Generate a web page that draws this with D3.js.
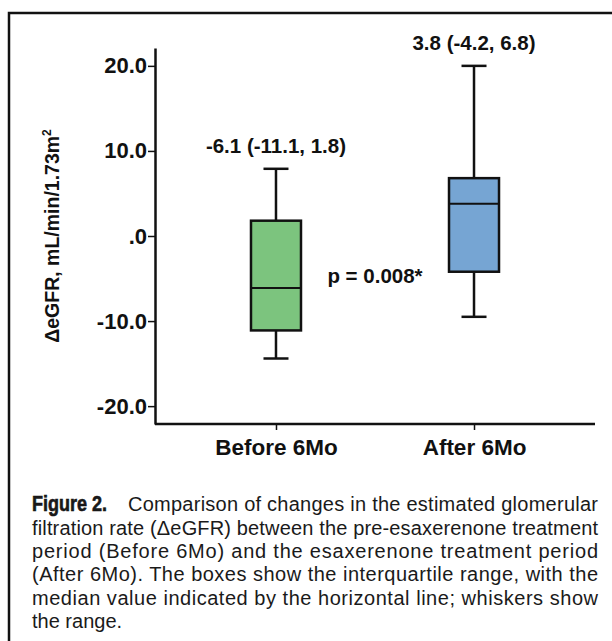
<!DOCTYPE html>
<html>
<head>
<meta charset="utf-8">
<script src="https://cdn.jsdelivr.net/npm/d3@7"></script>
<style>
  body { margin: 0; background: #fff; }
  svg { display: block; }
  .chart text { font-family: "Liberation Sans", Arial, sans-serif; font-weight: bold; fill: #111; }
  .caption text { font-family: "Liberation Sans", Arial, sans-serif; fill: #1a1a1a; font-size: 20px; }
</style>
</head>
<body>
<div id="chart"></div>
<script>
var groups = ["Before 6Mo", "After 6Mo"];
var mins = [-14.4, -9.5];
var q1s = [-11.1, -4.2];
var medians = [-6.1, 3.8];
var q3s = [1.8, 6.8];
var maxs = [7.9, 20.0];
var fills = ["#7cc47e", "#76a5d3"];
var summaryLabels = ["-6.1 (-11.1, 1.8)", "3.8 (-4.2, 6.8)"];
var yTicks = [-20, -10, 0, 10, 20];
var yTickLabels = ["-20.0", "-10.0", ".0", "10.0", "20.0"];
var pText = "p = 0.008*";

var captionLines = [
  "filtration rate (\u0394eGFR) between the pre-esaxerenone treatment",
  "period (Before 6Mo) and the esaxerenone treatment period",
  "(After 6Mo). The boxes show the interquartile range, with the",
  "median value indicated by the horizontal line; whiskers show",
  "the range."
];

var W = 612, H = 641;
var svg = d3.select("#chart").append("svg")
    .attr("width", W)
    .attr("height", H);

// outer frame (only top and left edges fall inside the picture)
svg.append("rect")
    .attr("x", 9).attr("y", 13)
    .attr("width", 640).attr("height", 660)
    .attr("fill", "none")
    .attr("stroke", "#111")
    .attr("stroke-width", 2.5);

var data = groups.map(function(g, i) {
  return {group: g, min: mins[i], q1: q1s[i], median: medians[i], q3: q3s[i], max: maxs[i], fill: fills[i], label: summaryLabels[i]};
});

var x = d3.scalePoint().domain(groups).range([155, 595]).padding(0.611);
var y = d3.scaleLinear().domain([-22.1, 22.1]).range([424, 48]);

var g = svg.append("g").attr("class", "chart");

var yAxis = d3.axisLeft(y)
    .tickValues(yTicks)
    .tickFormat(function(d, i) { return yTickLabels[i]; })
    .tickSize(7)
    .tickSizeOuter(0)
    .tickPadding(1);

var yg = g.append("g")
    .attr("transform", "translate(155,0)")
    .call(yAxis);
yg.select(".domain").attr("stroke", "#111").attr("stroke-width", 2.5);
yg.selectAll(".tick line").attr("stroke", "#111").attr("stroke-width", 1.5);
yg.selectAll(".tick text").style("font-size", "22px").attr("fill", "#111");

var xAxis = d3.axisBottom(x)
    .tickSize(6)
    .tickSizeOuter(0)
    .tickPadding(9);

var xg = g.append("g")
    .attr("transform", "translate(0,424)")
    .call(xAxis);
xg.select(".domain").attr("d", "M155,0H595").attr("stroke", "#111").attr("stroke-width", 2.5);
xg.selectAll(".tick line").attr("stroke", "#111").attr("stroke-width", 1.5);
xg.selectAll(".tick text").style("font-size", "22.5px").attr("fill", "#111");

// y axis title
g.append("text")
    .attr("transform", "translate(59," + y(0) + ") rotate(-90)")
    .attr("text-anchor", "middle")
    .style("font-size", "19.5px")
    .html("\u0394eGFR, mL/min/1.73m<tspan dy='-8' style='font-size:12px'>2</tspan>");

var boxW = 50, capW = 25;

var boxes = g.selectAll(".box")
  .data(data)
  .enter().append("g")
    .attr("class", "box");

// whiskers
boxes.append("line")
    .attr("x1", function(d) { return x(d.group); })
    .attr("x2", function(d) { return x(d.group); })
    .attr("y1", function(d) { return y(d.max); })
    .attr("y2", function(d) { return y(d.q3); })
    .attr("stroke", "#111").attr("stroke-width", 2.5);
boxes.append("line")
    .attr("x1", function(d) { return x(d.group); })
    .attr("x2", function(d) { return x(d.group); })
    .attr("y1", function(d) { return y(d.q1); })
    .attr("y2", function(d) { return y(d.min); })
    .attr("stroke", "#111").attr("stroke-width", 2.5);
boxes.append("line")
    .attr("x1", function(d) { return x(d.group) - capW / 2; })
    .attr("x2", function(d) { return x(d.group) + capW / 2; })
    .attr("y1", function(d) { return y(d.max); })
    .attr("y2", function(d) { return y(d.max); })
    .attr("stroke", "#111").attr("stroke-width", 2.5);
boxes.append("line")
    .attr("x1", function(d) { return x(d.group) - capW / 2; })
    .attr("x2", function(d) { return x(d.group) + capW / 2; })
    .attr("y1", function(d) { return y(d.min); })
    .attr("y2", function(d) { return y(d.min); })
    .attr("stroke", "#111").attr("stroke-width", 2.5);

// box
boxes.append("rect")
    .attr("x", function(d) { return x(d.group) - boxW / 2; })
    .attr("y", function(d) { return y(d.q3); })
    .attr("width", boxW)
    .attr("height", function(d) { return y(d.q1) - y(d.q3); })
    .attr("fill", function(d) { return d.fill; })
    .attr("stroke", "#111").attr("stroke-width", 2.5);

// median
boxes.append("line")
    .attr("x1", function(d) { return x(d.group) - boxW / 2; })
    .attr("x2", function(d) { return x(d.group) + boxW / 2; })
    .attr("y1", function(d) { return y(d.median); })
    .attr("y2", function(d) { return y(d.median); })
    .attr("stroke", "#111").attr("stroke-width", 2);

// median (IQR) labels
boxes.append("text")
    .attr("x", function(d) { return x(d.group); })
    .attr("y", function(d) { return y(d.max) - 16; })
    .attr("text-anchor", "middle")
    .style("font-size", "20.5px")
    .text(function(d) { return d.label; });

g.append("text")
    .attr("x", (x(groups[0]) + x(groups[1])) / 2)
    .attr("y", y(-5.5))
    .attr("text-anchor", "middle")
    .style("font-size", "20.5px")
    .text(pText);

// caption
var cap = svg.append("g").attr("class", "caption");
cap.append("text")
    .attr("x", 32).attr("y", 511)
    .style("font-family", "'Liberation Sans Narrow', 'Arial Narrow', 'Liberation Sans', sans-serif")
    .style("font-weight", "bold")
    .style("font-size", "22px")
    .attr("textLength", 75)
    .attr("lengthAdjust", "spacingAndGlyphs")
    .attr("fill", "#111")
    .attr("stroke", "#111")
    .attr("stroke-width", 0.6)
    .text("Figure 2.");
cap.append("text")
    .attr("x", 128).attr("y", 511)
    .attr("textLength", 470)
    .attr("lengthAdjust", "spacing")
    .text("Comparison of changes in the estimated glomerular");

cap.selectAll(".line")
  .data(captionLines)
  .enter().append("text")
    .attr("class", "line")
    .attr("x", 32)
    .attr("y", function(d, i) { return 534.5 + i * 23.4; })
    .each(function(d, i) {
      if (i < captionLines.length - 1) {
        d3.select(this).attr("textLength", 566).attr("lengthAdjust", "spacing");
      }
    })
    .text(function(d) { return d; });
</script>
</body>
</html>
